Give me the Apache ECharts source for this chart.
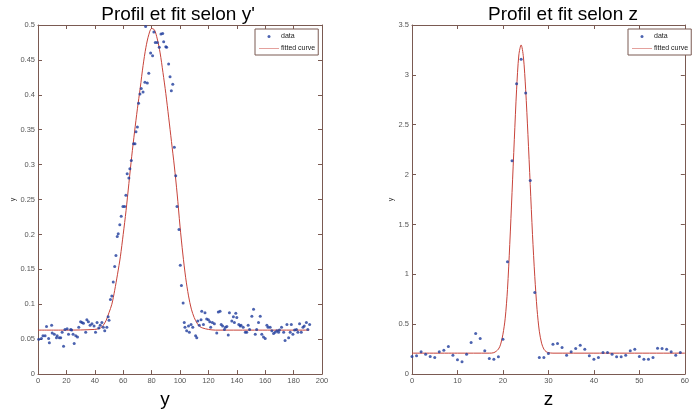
<!DOCTYPE html>
<html>
<head>
<meta charset="utf-8">
<script src="https://cdn.jsdelivr.net/npm/echarts@6/dist/echarts.min.js"></script>
<style>html,body{margin:0;padding:0;background:#fff}#c{width:692px;height:414px}</style>
</head>
<body>
<div id="c"></div>
<script>
// ---- Left chart: profile along y' ----
const profYPos = [0.5,2.4,3.5,5,6,7.5,8,9.6,10,11.5,13,13.5,15,16,17,18,19,20.5,21.5,23,23.7,24.7,25.5,26.6,27.8,28.7,30,31,32,33.6,34.4,35.5,36.7,38,39.5,40.5,41.6,42.8,43.8,45,46,47,48.5,49.4,50,51,52,53,54,54.9,55.8,56.5,57.6,58.6,59.8,61,
61.9,62.8,64,64.7,65.7,67.3,68.3,69,70,70.8,71.8,72.7,74,75.3,75.8,77,78,79.3,80.7,81.6,82.6,84,85.4,86.6,87.8,88.5,90,90.6,92,93,93.9,94.9,96,97,97.9,99.3,100.2,101,102.2,
103,103.5,104.7,106,106.6,107.8,109,111,111.8,112.5,113.6,114.8,115.3,116.5,117.6,118.8,120,121,121.6,122.8,124.2,125.9,127,128.2,129,130,131.3,132,133,134,134.8,136.5,137.6,138.3,139.3,140,141.4,142.4,143,144.5,146,147,148,149,150.6,151.8,153,154,155.3,156.5,157.6,158.8,160,161.2,162,163.5,164.7,165.9,167,168.2,169.4,170,171.5,173,174,175.3,176.5,177.6,178.4,179.5,180.7,182,183,184.2,185.4,186.6,187.5,189,190,191.3];
const profYVal = [.050,.051,.055,.055,.068,.051,.045,.070,.059,.057,.052,.055,.052,.052,.060,.040,.064,.065,.057,.064,.063,.057,.044,.055,.053,.067,.075,.074,.073,.060,.078,.075,.070,.072,.069,.060,.074,.066,.070,.074,.067,.062,.067,.082,.077,.107,.112,.132,.154,.170,.197,.201,.214,.226,.240,.240,
.256,.287,.281,.294,.306,.330,.330,.347,.354,.388,.401,.409,.404,.418,.498,.417,.431,.460,.456,.490,.475,.475,.468,.487,.488,.476,.469,.468,.444,.426,.406,.415,.325,.284,.240,.207,.156,.127,.102,
.074,.067,.062,.069,.060,.071,.067,.055,.052,.076,.070,.078,.090,.071,.088,.079,.078,.075,.067,.074,.072,.059,.089,.090,.071,.069,.064,.067,.068,.056,.088,.076,.082,.074,.087,.081,.071,.069,.070,.067,.060,.060,.070,.064,.083,.093,.057,.064,.074,.083,.057,.053,.051,.070,.067,.067,.062,.058,.060,.062,.060,.063,.067,.060,.048,.071,.052,.060,.071,.057,.063,.064,.060,.072,.060,.067,.069,.074,.064,.071];
const fitYPos = [0,20,40,44,46,48,50,52,54,56,58,60,62,64,66,68,70,72,74,76,78,80,82,84,86,88,90,92,94,96,98,100,102,104,106,108,110,112,114,116,120,125,150,191];
const fitYVal = [.063,.063,.064,.066,.070,.077,.088,.100,.120,.143,.168,.200,.234,.273,.312,.347,.380,.410,.442,.468,.486,.495,.493,.480,.460,.432,.402,.368,.333,.298,.258,.212,.172,.138,.112,.093,.081,.073,.068,.066,.064,.063,.063,.063];
const yTicks = {min: 0, max: 0.5, interval: 0.05};
const xTicksY = {min: 0, max: 200, interval: 20};

// ---- Right chart: profile along z ----
const profZPos = [0,1,2,3,4,5,6,7,8,9,10,11,12,13,14,15,16,17,18,19,20,21,22,23,24,25,26,27,28,29,30,31,32,33,34,35,36,37,38,39,40,41,42,43,44,45,46,47,48,49,50,51,52,53,54,55,56,57,58,59];
const profZVal = [.177,.183,.223,.200,.177,.167,.223,.240,.277,.190,.143,.123,.200,.317,.407,.357,.233,.157,.150,.173,.350,1.127,2.140,2.910,3.157,2.817,1.940,.817,.167,.167,.207,.300,.307,.267,.190,.223,.257,.290,.250,.183,.150,.167,.217,.217,.200,.173,.173,.190,.233,.250,.177,.150,.150,.167,.260,.257,.250,.223,.190,.217];
const fitZPos = [0,10,17,18,19,19.5,20,20.5,21,21.5,22,22.5,23,23.5,24,24.5,25,25.5,26,26.5,27,27.5,28,28.5,29,29.5,30,31,40,60];
const fitZVal = [.21,.21,.21,.215,.25,.30,.40,.56,.85,1.30,1.82,2.35,2.85,3.20,3.30,3.18,2.85,2.40,1.90,1.40,.98,.65,.43,.31,.25,.225,.215,.21,.21,.21];
const zTicksY = {min: 0, max: 3.5, interval: 0.5};
const xTicksZ = {min: 0, max: 60, interval: 10};

const titles = ["Profil et fit selon y'", "Profil et fit selon z"];
const xNames = ["y", "z"];
const yName = "y";
const legendNames = ["data", "fitted curve"];

const zip = (a, b) => a.map((v, i) => [v, b[i]]);
const frame = '#7a5a52';
const dotColor = '#1f3c9c';
const fitColor = '#c8433a';
const font = 'Liberation Sans, Arial, sans-serif';

function axesFor(gi, xt, yt, xName) {
  const tick = {show: true, inside: true, length: 4, lineStyle: {color: frame}};
  const line = {show: true, onZero: false, lineStyle: {color: frame, width: 1}};
  const lbl = {fontSize: 7.5, color: '#555', fontFamily: font, margin: 3};
  return {
    x: [
      {gridIndex: gi, type: 'value', position: 'bottom', ...xt, axisLine: line, axisTick: tick,
       axisLabel: lbl, splitLine: {show: false},
       name: xName, nameLocation: 'middle', nameGap: 8,
       nameTextStyle: {fontSize: 19, color: '#000', fontFamily: font, padding: gi === 0 ? [0, 30, 0, 0] : [0, 0, 0, 0]}},
      {gridIndex: gi, type: 'value', position: 'top', ...xt, axisLine: line, axisTick: tick,
       axisLabel: {show: false}, splitLine: {show: false}}
    ],
    y: [
      {gridIndex: gi, type: 'value', position: 'left', ...yt, axisLine: line, axisTick: tick,
       axisLabel: lbl, splitLine: {show: false},
       name: yName, nameLocation: 'middle', nameGap: gi === 0 ? 20 : 16,
       nameTextStyle: {fontSize: 7, color: '#333', fontFamily: font}},
      {gridIndex: gi, type: 'value', position: 'right', ...yt, axisLine: line, axisTick: tick,
       axisLabel: {show: false}, splitLine: {show: false}}
    ]
  };
}

const a0 = axesFor(0, xTicksY, yTicks, xNames[0]);
const a1 = axesFor(1, xTicksZ, zTicksY, xNames[1]);

const legendCommon = {
  orient: 'vertical', top: 29, itemWidth: 20, itemHeight: 3, itemGap: 5,
  padding: [4, 3, 3, 4], borderColor: frame, borderWidth: 1, backgroundColor: '#fff',
  textStyle: {fontSize: 7, color: '#222', fontFamily: font, padding: [0, 0, 0, -3]},
  data: [
    {name: legendNames[0], icon: 'circle', itemStyle: {color: dotColor}},
    {name: legendNames[1], icon: 'path://M0,0H40V1H0Z', itemStyle: {color: fitColor}}
  ]
};

const chart = echarts.init(document.getElementById('c'), null, {renderer: 'canvas'});
chart.setOption({
  animation: false,
  backgroundColor: '#fff',
  title: [
    {text: titles[0], left: 173, top: 0, textAlign: 'center', textStyle: {fontSize: 19, fontWeight: 'normal', color: '#000', fontFamily: font}},
    {text: titles[1], left: 558, top: 0, textAlign: 'center', textStyle: {fontSize: 19, fontWeight: 'normal', color: '#000', fontFamily: font}}
  ],
  grid: [
    {left: 38, top: 25, width: 284, height: 350},
    {left: 412, top: 25, width: 279, height: 350}
  ],
  xAxis: [...a0.x, ...a1.x],
  yAxis: [...a0.y, ...a1.y],
  legend: [
    {...legendCommon, left: 255},
    {...legendCommon, left: 628}
  ],
  series: [
    {name: legendNames[0], type: 'scatter', xAxisIndex: 0, yAxisIndex: 0, data: zip(profYPos, profYVal),
     symbol: 'circle', symbolSize: 3, itemStyle: {color: dotColor}, z: 3},
    {name: legendNames[1], type: 'line', xAxisIndex: 0, yAxisIndex: 0, data: zip(fitYPos, fitYVal),
     smooth: 0.3, symbol: 'none', lineStyle: {color: fitColor, width: 1}, z: 2},
    {name: legendNames[0], type: 'scatter', xAxisIndex: 2, yAxisIndex: 2, data: zip(profZPos, profZVal),
     symbol: 'circle', symbolSize: 3, itemStyle: {color: dotColor}, z: 3},
    {name: legendNames[1], type: 'line', xAxisIndex: 2, yAxisIndex: 2, data: zip(fitZPos, fitZVal),
     smooth: 0.3, symbol: 'none', lineStyle: {color: fitColor, width: 1}, z: 2}
  ]
});
</script>
</body>
</html>
